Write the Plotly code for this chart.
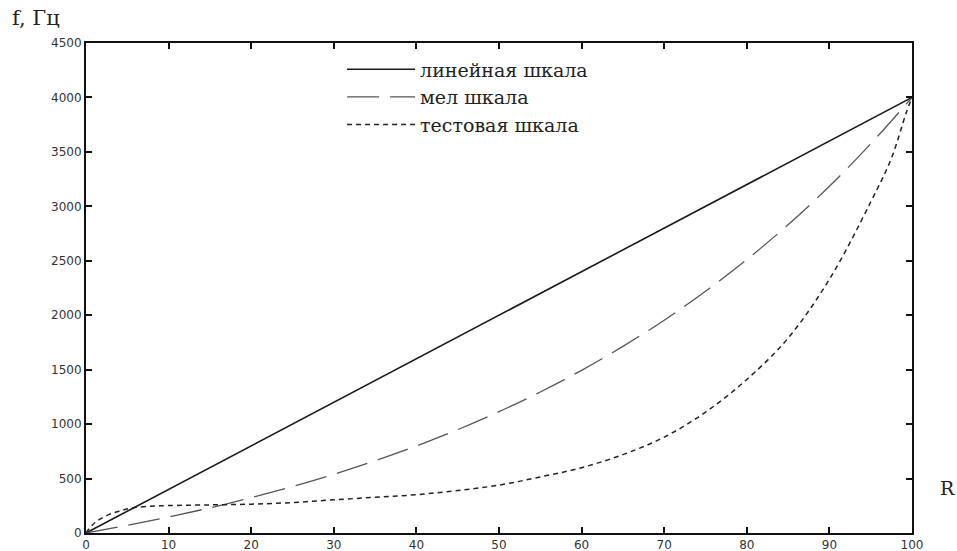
import plotly.graph_objects as go

R = [0, 5, 10, 15, 20, 25, 30, 35, 40, 45, 50, 55, 60, 65, 70, 75, 80, 85, 90, 95, 100]
f_linear = [0, 200, 400, 600, 800, 1000, 1200, 1400, 1600, 1800, 2000, 2200, 2400, 2600, 2800, 3000, 3200, 3400, 3600, 3800, 4000]
f_mel = [0, 70, 147, 231, 325, 426, 539, 663, 799, 949, 1114, 1295, 1494, 1714, 1954, 2220, 2511, 2831, 3184, 3574, 4000]

R_test = [0, 1, 2.5, 4, 5.5, 7.5, 10, 15, 20, 25, 30, 35, 40, 45, 50, 55, 60, 65, 70, 75, 80, 85, 90, 95, 97.5, 99.3, 100]
f_test = [0, 90, 160, 200, 228, 245, 252, 258, 265, 280, 305, 328, 352, 390, 440, 515, 600, 720, 880, 1110, 1410, 1790, 2330, 3040, 3440, 3860, 4000]

legend_names = ["линейная шкала", "мел шкала", "тестовая шкала"]
x_ticks = list(range(0, 101, 10))
y_ticks = list(range(0, 4501, 500))

SERIF = "DejaVu Serif, Liberation Serif, serif"

fig = go.Figure()
fig.add_trace(go.Scatter(x=R, y=f_linear, mode="lines", name=legend_names[0],
                         line=dict(color="#1a1a1a", width=1.6)))
fig.add_trace(go.Scatter(x=R, y=f_mel, mode="lines", name=legend_names[1], line_shape="spline",
                         line=dict(color="#555555", width=1.3, dash="32px,11px")))
fig.add_trace(go.Scatter(x=R_test, y=f_test, mode="lines", name=legend_names[2], line_shape="spline",
                         line=dict(color="#222222", width=1.5, dash="5px,4px")))

axis_common = dict(showgrid=False, zeroline=False, showline=True, linecolor="#111111", linewidth=2,
                   mirror="ticks", ticks="inside", ticklen=6, tickwidth=1.5, tickcolor="#111111",
                   automargin=False,
                   tickfont=dict(family="DejaVu Sans, Liberation Sans, Arial", size=12, color="#333333"))

fig.update_xaxes(range=[0, 100], tickvals=x_ticks, **axis_common)
fig.update_yaxes(range=[0, 4500], tickvals=y_ticks, **axis_common)

fig.update_layout(
    width=957, height=551,
    margin=dict(l=86, r=45, t=43, b=18),
    paper_bgcolor="white", plot_bgcolor="white",
    showlegend=True,
    legend=dict(x=0.31, y=0.985, xanchor="left", yanchor="top",
                bgcolor="rgba(0,0,0,0)", borderwidth=0, itemwidth=68,
                font=dict(family=SERIF, size=19, color="#222222"),
                tracegroupgap=0),
    annotations=[
        dict(text="f, Гц", xref="paper", yref="paper", x=-0.092, y=1.022, xanchor="left", yanchor="bottom",
             showarrow=False, font=dict(family=SERIF, size=21, color="#222222")),
        dict(text="R", xref="paper", yref="paper", x=1.031, y=0.092, xanchor="left", yanchor="middle",
             showarrow=False, font=dict(family=SERIF, size=19, color="#222222")),
    ],
)
for i, tr in enumerate(fig.data):
    tr.legendgroup = "g%d" % i

fig.write_html("out.html", config={"displayModeBar": False},
               post_script="document.body.style.margin='0';")
